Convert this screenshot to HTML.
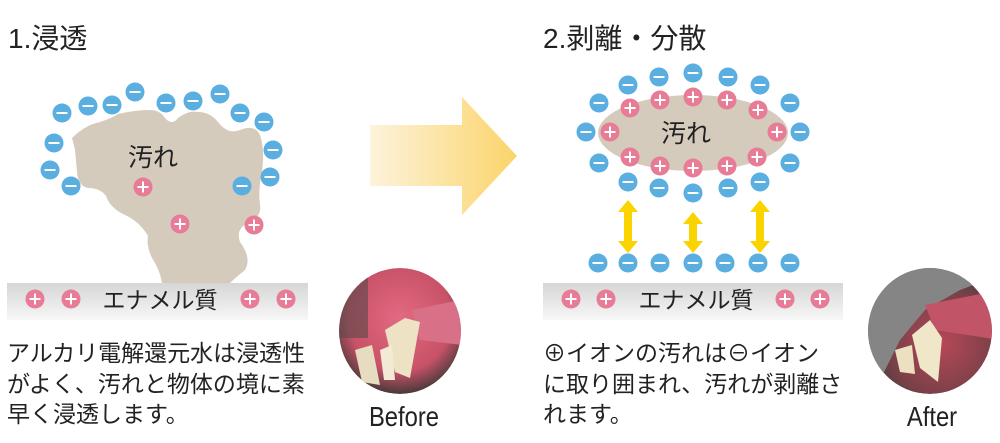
<!DOCTYPE html>
<html><head><meta charset="utf-8"><style>
body{margin:0;background:#fff;}
svg text{font-family:"Liberation Sans","Noto Sans CJK JP",sans-serif;}
</style></head><body>
<svg width="1000" height="438" viewBox="0 0 1000 438" xmlns="http://www.w3.org/2000/svg">
<defs>
<linearGradient id="bar" x1="0" y1="0" x2="0" y2="1"><stop offset="0" stop-color="#d6d6d6"/><stop offset="1" stop-color="#f7f7f7"/></linearGradient>
<linearGradient id="arr" x1="0" y1="0" x2="1" y2="0"><stop offset="0" stop-color="#fdf3dc"/><stop offset="1" stop-color="#fbd46a"/></linearGradient>
<symbol id="m" viewBox="-10 -10 20 20"><circle r="9.5" fill="#5aaee0"/><rect x="-5.5" y="-1" width="11" height="2" fill="#fff"/></symbol>
<symbol id="p" viewBox="-10 -10 20 20"><circle r="9.5" fill="#e87b95"/><rect x="-5.5" y="-1" width="11" height="2" fill="#fff"/><rect x="-1" y="-5.5" width="2" height="11" fill="#fff"/></symbol>
<radialGradient id="ph1" cx="0.5" cy="0.4" r="0.6"><stop offset="0" stop-color="#e26a82"/><stop offset="0.7" stop-color="#c85268"/><stop offset="1" stop-color="#4a3a3a"/></radialGradient>
<radialGradient id="ph2" cx="0.6" cy="0.6" r="0.6"><stop offset="0" stop-color="#b64858"/><stop offset="0.7" stop-color="#7a4048"/><stop offset="1" stop-color="#4a4040"/></radialGradient>
<clipPath id="c1"><ellipse cx="400" cy="331" rx="61" ry="63"/></clipPath>
<clipPath id="c2"><ellipse cx="930" cy="331" rx="62" ry="63"/></clipPath>
</defs>
<text x="8" y="48" font-size="28" fill="#222">1.浸透</text>
<text x="543" y="48" font-size="28" fill="#222">2.剥離・分散</text>

<path d="M72,138 Q85,125 100,122 Q112,118 118,114 Q135,110 150,110 Q160,110 165,118 Q172,126 178,118 Q188,110 198,112 Q210,112 218,122 Q228,135 240,130 Q255,124 260,135 Q265,150 262,172 Q258,190 260,205 Q262,216 250,222 Q235,228 240,242 Q252,258 245,270 Q235,278 230,283 L162,283 Q160,270 152,258 Q146,245 148,236 Q140,222 125,215 Q110,208 106,196 Q100,188 88,188 Q78,186 77,172 Q76,160 75,150 Q73,142 72,138 Z" fill="#d5cbbd"/>
<text x="128" y="166" font-size="25" fill="#222">汚れ</text>
<g>
<use href="#m" x="52" y="103" width="20" height="20"/>
<use href="#m" x="78" y="96" width="20" height="20"/>
<use href="#m" x="102" y="95" width="20" height="20"/>
<use href="#m" x="125" y="82" width="20" height="20"/>
<use href="#m" x="156" y="93" width="20" height="20"/>
<use href="#m" x="183" y="91" width="20" height="20"/>
<use href="#m" x="210" y="84" width="20" height="20"/>
<use href="#m" x="230" y="103" width="20" height="20"/>
<use href="#m" x="254" y="112" width="20" height="20"/>
<use href="#m" x="263" y="140" width="20" height="20"/>
<use href="#m" x="260" y="167" width="20" height="20"/>
<use href="#m" x="232" y="176" width="20" height="20"/>
<use href="#m" x="44" y="133" width="20" height="20"/>
<use href="#m" x="40" y="160" width="20" height="20"/>
<use href="#m" x="61" y="176" width="20" height="20"/>
<use href="#p" x="133" y="177" width="20" height="20"/>
<use href="#p" x="170" y="214" width="20" height="20"/>
<use href="#p" x="244" y="215" width="20" height="20"/>
</g>
<rect x="7" y="283" width="301" height="37" fill="url(#bar)"/>
<use href="#p" x="25" y="289" width="20" height="20"/>
<use href="#p" x="61" y="289" width="20" height="20"/>
<use href="#p" x="240" y="289" width="20" height="20"/>
<use href="#p" x="276" y="289" width="20" height="20"/>
<text x="160" y="308" font-size="23" text-anchor="middle" fill="#222">エナメル質</text>

<text font-size="23" fill="#222"><tspan x="7" y="361">アルカリ電解還元水は浸透性</tspan><tspan x="7" y="392">がよく、汚れと物体の境に素</tspan><tspan x="7" y="422">早く浸透します。</tspan></text>

<path d="M370,125 L462,125 L462,97 L517,156 L462,215 L462,186 L370,186 Z" fill="url(#arr)"/>

<g clip-path="url(#c1)">
<ellipse cx="400" cy="331" rx="61" ry="63" fill="url(#ph1)"/>
<rect x="338" y="268" width="30" height="70" fill="#5a4a4a" opacity="0.6"/>
<path d="M412,310 L460,300 L462,345 L420,340 Z" fill="#d87088"/>
<path d="M385,330 L405,318 L420,322 L410,378 L395,372 Z" fill="#eee2c4"/>
<path d="M355,350 L372,345 L380,385 L362,382 Z" fill="#e8dcc0"/>
<path d="M380,350 L392,345 L395,380 L384,380 Z" fill="#f2ead4"/>
</g>
<text x="404" y="426" font-size="28" text-anchor="middle" fill="#222" transform="translate(404 0) scale(0.85 1) translate(-404 0)">Before</text>

<ellipse cx="693" cy="133" rx="95" ry="38" fill="#d5cbbd"/>
<text x="661" y="142" font-size="25" fill="#222">汚れ</text>
<g>
<use href="#m" x="618" y="75" width="20" height="20"/>
<use href="#m" x="649" y="67" width="20" height="20"/>
<use href="#m" x="683" y="63" width="20" height="20"/>
<use href="#m" x="718" y="67" width="20" height="20"/>
<use href="#m" x="750" y="75" width="20" height="20"/>
<use href="#m" x="589" y="93" width="20" height="20"/>
<use href="#m" x="780" y="93" width="20" height="20"/>
<use href="#m" x="576" y="122" width="20" height="20"/>
<use href="#m" x="790" y="122" width="20" height="20"/>
<use href="#m" x="589" y="153" width="20" height="20"/>
<use href="#m" x="780" y="153" width="20" height="20"/>
<use href="#m" x="618" y="172" width="20" height="20"/>
<use href="#m" x="649" y="178" width="20" height="20"/>
<use href="#m" x="683" y="183" width="20" height="20"/>
<use href="#m" x="718" y="178" width="20" height="20"/>
<use href="#m" x="750" y="172" width="20" height="20"/>
<use href="#p" x="620" y="98" width="20" height="20"/>
<use href="#p" x="650" y="90" width="20" height="20"/>
<use href="#p" x="683" y="87" width="20" height="20"/>
<use href="#p" x="717" y="90" width="20" height="20"/>
<use href="#p" x="748" y="100" width="20" height="20"/>
<use href="#p" x="600" y="122" width="20" height="20"/>
<use href="#p" x="767" y="122" width="20" height="20"/>
<use href="#p" x="620" y="147" width="20" height="20"/>
<use href="#p" x="650" y="156" width="20" height="20"/>
<use href="#p" x="683" y="158" width="20" height="20"/>
<use href="#p" x="717" y="156" width="20" height="20"/>
<use href="#p" x="747" y="147" width="20" height="20"/>
</g>
<g fill="#fbd400">
<path d="M628,200 L638,212 L632,212 L632,241 L638,241 L628,253 L618,241 L624,241 L624,212 L618,212 Z"/>
<path d="M693,212 L703,224 L697,224 L697,241 L703,241 L693,253 L683,241 L689,241 L689,224 L683,224 Z"/>
<path d="M760,200 L770,212 L764,212 L764,241 L770,241 L760,253 L750,241 L756,241 L756,212 L750,212 Z"/>
</g>
<use href="#m" x="588" y="253" width="20" height="20"/>
<use href="#m" x="618" y="253" width="20" height="20"/>
<use href="#m" x="650" y="253" width="20" height="20"/>
<use href="#m" x="683" y="253" width="20" height="20"/>
<use href="#m" x="715" y="253" width="20" height="20"/>
<use href="#m" x="748" y="253" width="20" height="20"/>
<use href="#m" x="780" y="253" width="20" height="20"/>
<rect x="543" y="283" width="300" height="37" fill="url(#bar)"/>
<use href="#p" x="561" y="289" width="20" height="20"/>
<use href="#p" x="596" y="289" width="20" height="20"/>
<use href="#p" x="775" y="289" width="20" height="20"/>
<use href="#p" x="810" y="289" width="20" height="20"/>
<text x="696" y="308" font-size="23" text-anchor="middle" fill="#222">エナメル質</text>

<text font-size="23" fill="#222"><tspan x="543" y="361">⊕イオンの汚れは⊖イオン</tspan><tspan x="543" y="392">に取り囲まれ、汚れが剥離さ</tspan><tspan x="543" y="422">れます。</tspan></text>

<g clip-path="url(#c2)">
<ellipse cx="930" cy="331" rx="62" ry="63" fill="url(#ph2)"/>
<path d="M860,260 L1000,260 L1000,275 L960,290 L925,310 L900,340 L880,380 L860,390 Z" fill="#858585"/>
<path d="M925,305 L1000,290 L1000,340 L935,330 Z" fill="#c25468"/>
<path d="M912,335 L930,320 L942,338 L938,382 L920,368 Z" fill="#f0e6c8"/>
<path d="M895,350 L912,345 L915,374 L900,372 Z" fill="#ece0c0"/>
</g>
<text x="932" y="426" font-size="28" text-anchor="middle" fill="#222" transform="translate(932 0) scale(0.85 1) translate(-932 0)">After</text>
</svg>
</body></html>
